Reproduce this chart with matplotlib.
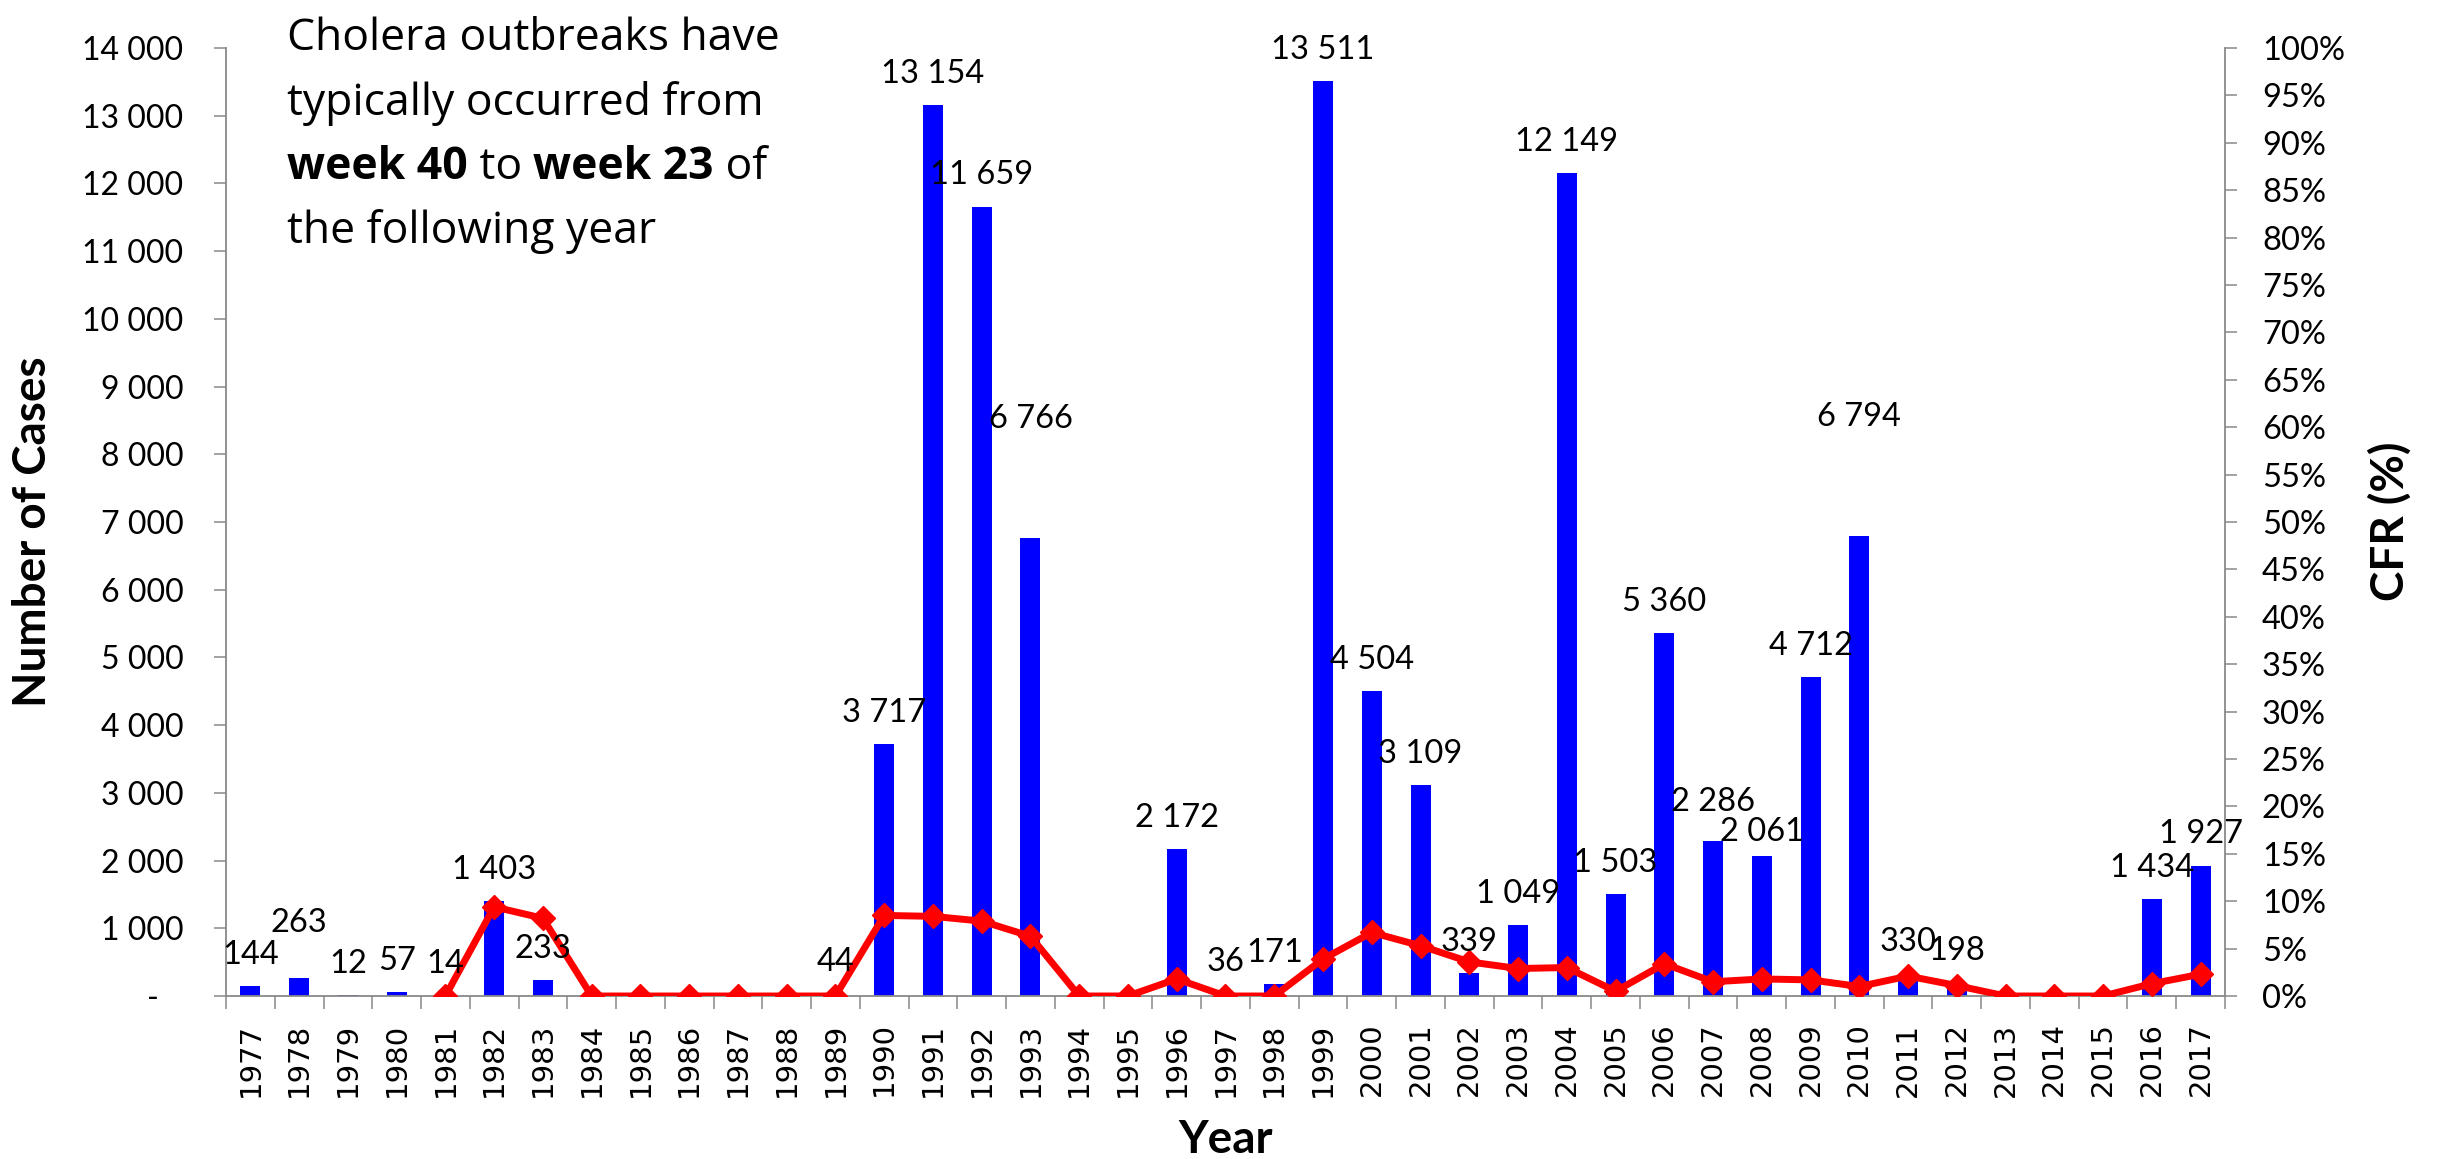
import numpy as np
import matplotlib
matplotlib.use("Agg")
import matplotlib.pyplot as plt
from matplotlib.ticker import FixedLocator, FuncFormatter

# ---- data -------------------------------------------------------------
years = list(range(1977, 2018))

cases = [144, 263, 12, 57, 14, 1403, 233, np.nan, np.nan, np.nan,
         np.nan, np.nan, 44, 3717, 13154, 11659, 6766, np.nan, np.nan, 2172,
         36, 171, 13511, 4504, 3109, 339, 1049, 12149, 1503, 5360,
         2286, 2061, 4712, 6794, 330, 198, np.nan, np.nan, np.nan, 1434,
         1927]

# case fatality rate, %
cfr = [np.nan, np.nan, np.nan, np.nan, 0.0, 9.4, 8.2, 0.0, 0.0, 0.0,
       0.0, 0.0, 0.0, 8.5, 8.4, 7.9, 6.3, 0.0, 0.0, 1.8,
       0.0, 0.0, 3.9, 6.7, 5.3, 3.6, 2.9, 3.0, 0.5, 3.4,
       1.5, 1.8, 1.7, 1.0, 2.1, 1.1, 0.0, 0.0, 0.0, 1.3,
       2.3]

# extra lift (points) for a few value labels
label_lift = {1978: 17, 1993: 63, 2010: 63, 2007: 6, 2008: -5}

note_lines = [
    [("Cholera outbreaks have", "normal")],
    [("typically occurred from", "normal")],
    [("week 40", "bold"), (" to ", "normal"), ("week 23", "bold"), (" of", "normal")],
    [("the following year", "normal")],
]

# ---- styling ------------------------------------------------------------
W, H = 2437, 1159
AX_GREY = "#898989"
BAR_BLUE = "#0000FF"
LINE_RED = "#FF0000"
SANS = ["Lato", "DejaVu Sans"]
NOTE = ["Open Sans", "DejaVu Sans"]

fig = plt.figure(figsize=(W / 100, H / 100), dpi=100)
left, right, top, bottom = 226, 2225, 48, 996
ax = fig.add_axes([left / W, (H - bottom) / H, (right - left) / W, (bottom - top) / H])
ax2 = ax.twinx()

x = np.arange(len(years))
cases_arr = np.array(cases, dtype=float)
cfr_arr = np.array(cfr, dtype=float) / 100.0

ax.bar(x, cases_arr, width=0.41, color=BAR_BLUE, zorder=2)
ax2.plot(x, cfr_arr, color=LINE_RED, lw=5, marker="D", ms=12.5,
         markeredgecolor=LINE_RED, markerfacecolor=LINE_RED, zorder=3)

ax.set_xlim(-0.5, len(years) - 0.5)
ax.set_ylim(0, 14000)
ax2.set_ylim(0, 1.0)

# left axis
ax.yaxis.set_major_locator(FixedLocator(np.arange(0, 14001, 1000)))
ax.yaxis.set_major_formatter(FuncFormatter(
    lambda v, p: "-   " if v == 0 else f"{int(v):,}".replace(",", " ")))
ax.tick_params(axis="y", direction="out", length=8.6, width=1.1, color=AX_GREY,
               pad=22, labelsize=23)
for t in ax.get_yticklabels():
    t.set_fontfamily(SANS)

# right axis
ax2.yaxis.set_major_locator(FixedLocator(np.arange(0, 1.0001, 0.05)))
ax2.yaxis.set_major_formatter(FuncFormatter(lambda v, p: f"{int(round(v * 100))}%"))
ax2.tick_params(axis="y", direction="out", length=8.6, width=1.1, color=AX_GREY,
                pad=18, labelsize=23.5)
for t in ax2.get_yticklabels():
    t.set_fontfamily(SANS)

# category axis: labels centred, tick marks between categories
ax.set_xticks(x)
ax.set_xticklabels([str(y) for y in years], rotation=90, fontsize=21,
                   fontfamily="DejaVu Sans")
ax.tick_params(axis="x", which="major", length=0, pad=19)
ax.xaxis.set_minor_locator(FixedLocator(np.arange(-0.5, len(years), 1.0)))
ax.tick_params(axis="x", which="minor", direction="out", length=9.4, width=1.1,
               color=AX_GREY)

for a in (ax, ax2):
    a.spines["top"].set_visible(False)
    for s in ("left", "right", "bottom"):
        a.spines[s].set_color(AX_GREY)
        a.spines[s].set_linewidth(1.3)
ax.spines["right"].set_visible(False)
ax2.spines["left"].set_visible(False)
ax2.spines["bottom"].set_visible(False)
ax.set_zorder(ax2.get_zorder() - 1)
ax2.patch.set_visible(False)
ax.patch.set_visible(False)

# value labels above the bars
for xi, yr, v in zip(x, years, cases_arr):
    if np.isnan(v):
        continue
    txt = f"{int(v):,}".replace(",", " ")
    ax2.annotate(txt, xy=(xi, v / 14000.0), xytext=(0, 16 + label_lift.get(yr, 0)),
                 textcoords="offset points", ha="center", va="baseline",
                 fontsize=23.5, fontfamily=SANS, color="black", zorder=5,
                 annotation_clip=False)

# axis titles
fig.text(33 / W, 1 - 532 / H, "Number of Cases", rotation=90, ha="center",
         va="center", fontsize=33, fontweight="bold", fontfamily=SANS)
fig.text(2390 / W, 1 - 521 / H, "CFR (%)", rotation=90, ha="center",
         va="center", fontsize=33, fontweight="bold", fontfamily=SANS)
fig.text((left + right) / 2 / W, (H - 1153) / H, "Year", ha="center",
         va="baseline", fontsize=33, fontweight="bold", fontfamily=SANS)

# note in the upper-left corner, mixed regular / bold runs
baselines = [50, 114.5, 179, 243.5]
fig.canvas.draw()
renderer = fig.canvas.get_renderer()
for line, yb in zip(note_lines, baselines):
    xpos = 287
    for s, weight in line:
        t = fig.text(xpos / W, (H - yb) / H, s, ha="left", va="baseline",
                     fontsize=32, fontweight=weight, fontfamily=NOTE)
        bb = t.get_window_extent(renderer=renderer)
        xpos = bb.x1

fig.savefig("out.png", dpi=100)
